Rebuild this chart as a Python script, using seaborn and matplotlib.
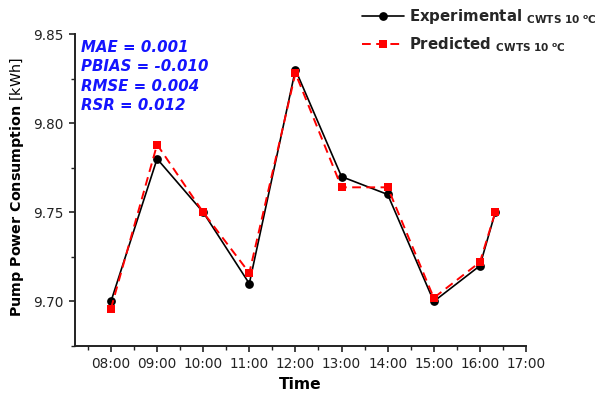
import matplotlib
matplotlib.use("Agg")
import matplotlib.pyplot as plt
import seaborn as sns
import pandas as pd
from matplotlib.lines import Line2D

# Measurement times and pump power consumption (kWh)
times = ["08:00", "09:00", "10:00", "11:00", "12:00", "13:00",
         "14:00", "15:00", "16:00", "16:20"]
experimental = [9.70, 9.78, 9.75, 9.71, 9.83, 9.77, 9.76, 9.70, 9.72, 9.75]
predicted = [9.696, 9.788, 9.75, 9.716, 9.828, 9.764, 9.764, 9.702, 9.722, 9.75]

tick_labels = ["08:00", "09:00", "10:00", "11:00", "12:00", "13:00",
               "14:00", "15:00", "16:00", "17:00"]
y_ticks = [9.70, 9.75, 9.80, 9.85]

stats_lines = ["MAE = 0.001", "PBIAS = -0.010", "RMSE = 0.004", "RSR = 0.012"]


def to_hours(t):
    h, m = t.split(":")
    return int(h) + int(m) / 60.0


df = pd.DataFrame({
    "hour": [to_hours(t) for t in times],
    "Experimental": experimental,
    "Predicted": predicted,
})

sns.set_style("ticks")
plt.rcParams["font.family"] = ["DejaVu Sans"]
plt.rcParams["mathtext.fontset"] = "dejavusans"

fig = plt.figure(figsize=(6.06, 3.94), dpi=100)
ax = fig.add_axes([75 / 606, 48 / 394, 451 / 606, 312 / 394])

sns.lineplot(data=df, x="hour", y="Experimental", ax=ax, color="black",
             linewidth=1.2, marker="o", markersize=6.3, markeredgewidth=0,
             markerfacecolor="black")
sns.lineplot(data=df, x="hour", y="Predicted", ax=ax, color="#ff0000",
             linewidth=1.4, marker="s", markersize=5.4, markeredgewidth=0,
             markerfacecolor="#ff0000", dashes=False)
ax.lines[-1].set_dashes((4.5, 2.8))

ax.set_xlim(7.22, 17.0)
ax.set_ylim(9.675, 9.85)
ax.set_xticks([to_hours(t) for t in tick_labels])
ax.set_xticklabels(tick_labels)
ax.set_xticks([to_hours(t) - 0.5 for t in tick_labels], minor=True)
ax.set_yticks(y_ticks)
ax.set_yticklabels([f"{v:.2f}" for v in y_ticks])
ax.set_yticks([9.675, 9.725, 9.775, 9.825], minor=True)

for side in ("top", "right"):
    ax.spines[side].set_visible(False)
for side in ("left", "bottom"):
    ax.spines[side].set_linewidth(1.4)
    ax.spines[side].set_color("#222222")

ax.tick_params(axis="both", which="major", direction="out", length=4.2,
               width=1.2, labelsize=9.8, colors="#222222", pad=4)
ax.tick_params(axis="both", which="minor", direction="out", length=2.6,
               width=1.0, colors="#222222")
for lbl in ax.get_xticklabels() + ax.get_yticklabels():
    lbl.set_color("#222222")

ax.set_xlabel("Time", fontsize=11.2, fontweight="bold", color="black")
ax.xaxis.set_label_coords(0.5, -0.098)
ax.set_ylabel(r"Pump Power Consumption $\mathrm{[kWh]}$", fontsize=10.3,
              fontweight="bold", color="black")
ax.yaxis.set_label_coords(-0.108, 0.51)

ax.text(0.014, 0.982, "\n".join(stats_lines), transform=ax.transAxes,
        ha="left", va="top", fontsize=10.8, fontweight="bold",
        fontstyle="italic", color="#1414ff", linespacing=1.38)

handles = [
    Line2D([], [], color="black", linewidth=1.2, marker="o", markersize=6.3,
           markeredgewidth=0),
    Line2D([], [], color="#ff0000", linewidth=1.4, marker="s",
           markersize=5.4, markeredgewidth=0, dashes=(4.5, 2.8)),
]
labels = [
    r"Experimental $_{\mathbf{CWTS\ 10\ {}^{o}C}}$",
    r"Predicted $_{\mathbf{CWTS\ 10\ {}^{o}C}}$",
]
leg = fig.legend(handles, labels, loc="upper left",
                 bbox_to_anchor=(362 / 606, 1 - 7 / 394), frameon=False,
                 prop={"size": 10.8, "weight": "bold"}, handlelength=2.8,
                 handletextpad=0.35, labelspacing=0.6, borderpad=0,
                 borderaxespad=0)

fig.savefig("out.png", dpi=100)
